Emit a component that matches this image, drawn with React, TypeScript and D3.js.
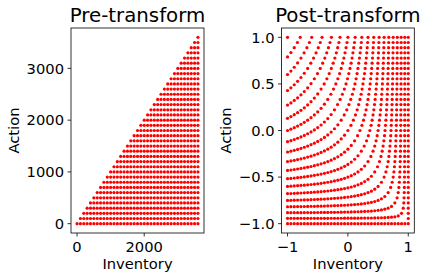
import { useMemo } from "react";
import * as d3 from "d3";

// Grid of (inventory, action) pairs; only action <= inventory is feasible.
const inventoryLevels = [
  0, 100, 200, 300, 400, 500, 600, 700, 800, 900, 1000, 1100, 1200, 1300, 1400, 1500, 1600, 1700, 1800,
  1900, 2000, 2100, 2200, 2300, 2400, 2500, 2600, 2700, 2800, 2900, 3000, 3100, 3200, 3300, 3400, 3500, 3600,
];
const actionLevels = [
  0, 100, 200, 300, 400, 500, 600, 700, 800, 900, 1000, 1100, 1200, 1300, 1400, 1500, 1600, 1700, 1800,
  1900, 2000, 2100, 2200, 2300, 2400, 2500, 2600, 2700, 2800, 2900, 3000, 3100, 3200, 3300, 3400, 3500, 3600,
];

const preXTicks = [0, 2000];
const preYTicks = [0, 1000, 2000, 3000];
const postXTicks = [-1, 0, 1];
const postYTicks = [-1, -0.5, 0, 0.5, 1];

type Pt = { inv: number; act: number };

const W = 429;
const H = 280;
const FONT = "DejaVu Sans, sans-serif";
const RED = "#ff0000";

// Radial stretch of the triangle onto the square, centred on the
// (max inventory, zero action) corner: each point keeps its angle from that
// corner and its fraction of the way out to the far edge.
function toSquare(p: Pt, max: number): [number, number] {
  const s = p.inv / max;
  const t = p.act / max;
  const dx = 1 - s;
  if (dx === 0 && t === 0) return [1, -1];
  const f = (dx + t) / Math.max(dx, t);
  const x = 1 - dx * f;
  const y = t * f;
  return [2 * x - 1, 2 * y - 1];
}

const fmtMinus = (s: string) => s.replace("-", "\u2212");

function Panel({
  left,
  right,
  top,
  bottom,
  xDomain,
  yDomain,
  xTicks,
  yTicks,
  yFmt,
  title,
  points,
}: {
  left: number;
  right: number;
  top: number;
  bottom: number;
  xDomain: [number, number];
  yDomain: [number, number];
  xTicks: number[];
  yTicks: number[];
  yFmt: (v: number) => string;
  title: string;
  points: Array<[number, number]>;
}) {
  const x = d3.scaleLinear().domain(xDomain).range([left, right]);
  const y = d3.scaleLinear().domain(yDomain).range([bottom, top]);

  const yLabelWidth = d3.max(yTicks, (v) => fmtMinus(yFmt(v)).length) ?? 0;
  // rough width of the widest tick label, used to park the axis label
  const tickTextW = yTicks.reduce((m, v) => {
    const s = fmtMinus(yFmt(v));
    let w = 0;
    for (const c of s) w += c === "." ? 0.318 : c === "\u2212" ? 0.838 : 0.636;
    return Math.max(m, w * 14.7);
  }, 0);
  void yLabelWidth;
  const ylabelX = left - 3.5 - 3.5 - tickTextW - 4 - 3.5;
  const cy = (top + bottom) / 2;

  return (
    <g>
      {points.map(([px, py], i) => (
        <circle key={i} cx={x(px)} cy={y(py)} r={1.6} fill={RED} />
      ))}
      <rect
        x={left}
        y={top}
        width={right - left}
        height={bottom - top}
        fill="none"
        stroke="#000"
        strokeWidth={0.8}
      />
      {xTicks.map((v) => (
        <g key={`x${v}`}>
          <line x1={x(v)} x2={x(v)} y1={bottom} y2={bottom + 3.5} stroke="#000" strokeWidth={0.8} />
          <text x={x(v)} y={bottom + 18.5} textAnchor="middle" fontSize={14.7} fontFamily={FONT}>
            {fmtMinus(String(v))}
          </text>
        </g>
      ))}
      {yTicks.map((v) => (
        <g key={`y${v}`}>
          <line x1={left - 3.5} x2={left} y1={y(v)} y2={y(v)} stroke="#000" strokeWidth={0.8} />
          <text x={left - 7} y={y(v) + 5.3} textAnchor="end" fontSize={14.7} fontFamily={FONT}>
            {fmtMinus(yFmt(v))}
          </text>
        </g>
      ))}
      <text x={(left + right) / 2} y={269} textAnchor="middle" fontSize={14.7} fontFamily={FONT}>
        Inventory
      </text>
      <text
        transform={`translate(${ylabelX},${cy}) rotate(-90)`}
        textAnchor="middle"
        fontSize={14.7}
        fontFamily={FONT}
      >
        Action
      </text>
      <text x={(left + right) / 2} y={21.7} textAnchor="middle" fontSize={19.8} fontFamily={FONT}>
        {title}
      </text>
    </g>
  );
}

export default function App() {
  const pre = useMemo(() => {
    const pts: Pt[] = [];
    for (const inv of inventoryLevels) {
      for (const act of actionLevels) {
        if (act <= inv) pts.push({ inv, act });
      }
    }
    return pts;
  }, []);

  const maxInv = d3.max(inventoryLevels) ?? 1;
  const prePts = pre.map((p) => [p.inv, p.act] as [number, number]);
  const postPts = pre.map((p) => toSquare(p, maxInv));

  const pad = maxInv * 0.05;

  return (
    <svg
      width={W}
      height={H}
      viewBox={`0 0 ${W} ${H}`}
      style={{ position: "absolute", left: 0, top: 0, background: "#fff" }}
    >
      <Panel
        left={71}
        right={204}
        top={28}
        bottom={233}
        xDomain={[-pad, maxInv + pad]}
        yDomain={[-pad, maxInv + pad]}
        xTicks={preXTicks}
        yTicks={preYTicks}
        yFmt={(v) => String(v)}
        title="Pre-transform"
        points={prePts}
      />
      <Panel
        left={281.5}
        right={414.3}
        top={28}
        bottom={233}
        xDomain={[-1.1, 1.1]}
        yDomain={[-1.1, 1.1]}
        xTicks={postXTicks}
        yTicks={postYTicks}
        yFmt={(v) => v.toFixed(1)}
        title="Post-transform"
        points={postPts}
      />
    </svg>
  );
}
